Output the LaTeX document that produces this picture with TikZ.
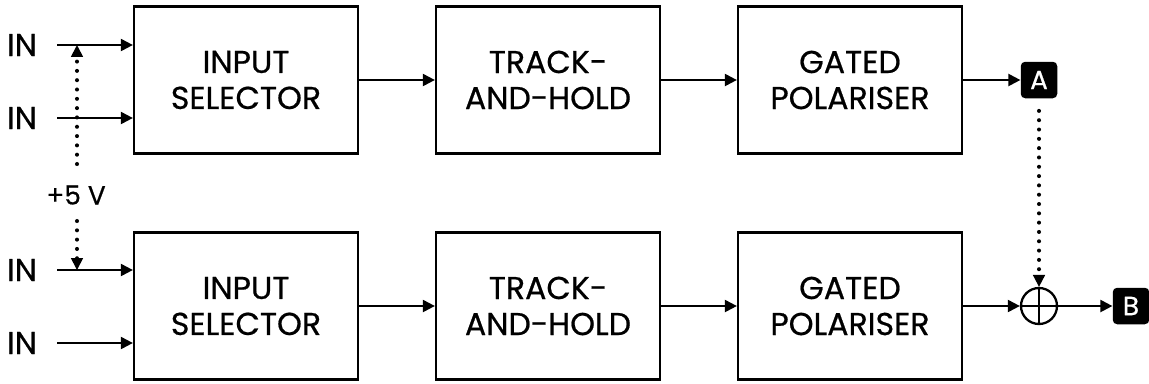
\documentclass[tikz,border=0pt]{standalone}
\usepackage{fontspec}
\setmainfont{Poppins}[UprightFeatures={FakeBold=0.6}]
\usetikzlibrary{arrows.meta}
\tikzset{
    block/.style={draw, line width=1.3pt, minimum width=4.48cm, minimum height=2.94cm,
        align=center, font=\fontsize{18}{20.5}\selectfont},
    arr/.style={line width=1.2pt, -{Triangle[length=6.8pt, width=6.8pt]}},
    dots/.style={line width=2.3pt, line cap=round, dash pattern=on 0pt off 5.3pt,
        -{Triangle[length=6.8pt, width=6.8pt, line cap=butt, line width=1pt]}},
    tag/.style={fill=black, text=white, rounded corners=2.5pt, minimum size=0.73cm,
        inner sep=0pt, font=\fontsize{15}{15}\selectfont},
    inlab/.style={font=\fontsize{18}{18}\selectfont, inner sep=0pt}
}
\begin{document}
\begin{tikzpicture}[x=0.02cm, y=-0.02cm]
    \useasboundingbox (0,0) rectangle (1149,383);
    % Blocchi
    \foreach \r/\y in {1/80, 2/306} {
        \node[block] (sel\r) at (246,\y) {INPUT\\SELECTOR};
        \node[block] (th\r) at (548,\y) {TRACK-\\AND-HOLD};
        \node[block] (pol\r) at (850,\y) {GATED\\POLARISER};
        \draw[arr] (sel\r) -- (th\r);
        \draw[arr] (th\r) -- (pol\r);
    }

    % Ingressi
    \foreach \i/\y in {1/45, 2/118, 3/270, 4/343} {
        \node[inlab] (in\i) at (22,\y) {IN};
        \coordinate (s\i) at (57,\y);
    }
    \draw[arr] (s1) -- (s1 -| sel1.west);
    \draw[arr] (s2) -- (s2 -| sel1.west);
    \draw[arr] (s3) -- (s3 -| sel2.west);
    \draw[arr] (s4) -- (s4 -| sel2.west);

    % Alimentazione
    \node[font=\fontsize{15}{15}\selectfont] (vcc) at (76,195) {+5 V};
    \coordinate (v1) at (77,45);
    \coordinate (v2) at (77,270);
    \draw[dots] (77,164) -- (v1);
    \draw[dots] (77,221) -- (v2);

    % Uscite
    \node[tag] (outA) at (1039,80) {A};
    \node[draw, circle, line width=1.3pt, minimum size=0.72cm, inner sep=0pt] (sum) at (1039,306) {};
    \draw[line width=1.3pt] (sum.north) -- (sum.south) (sum.west) -- (sum.east);
    \node[tag] (outB) at (1131,306) {B};
    \draw[arr] (pol1) -- (outA);
    \draw[arr] (pol2) -- (sum);
    \draw[arr] (sum) -- (outB);
    \draw[dots] ([yshift=-7pt]outA.south) -- (sum.north);
\end{tikzpicture}
\end{document}
